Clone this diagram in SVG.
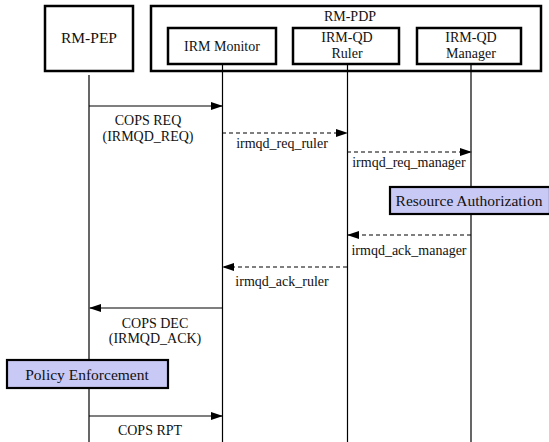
<svg xmlns="http://www.w3.org/2000/svg" width="549" height="442" viewBox="0 0 549 442" font-family="'Liberation Serif', 'DejaVu Serif', serif">
<style>
.box{fill:#fff;stroke:#000;stroke-width:2.5}
.act{fill:#c9c9f5;stroke:#000;stroke-width:2.2}
.life{stroke:#000;stroke-width:1.2;fill:none}
.msg{stroke:#000;stroke-width:1.2;fill:none}
.dash{stroke-dasharray:4,3}
text{font-family:'Liberation Serif','DejaVu Serif',serif;font-size:14px;fill:#111;text-anchor:middle}
.big{font-size:15.5px}
</style>
<defs>
<marker id="ah" markerWidth="12" markerHeight="8" refX="11" refY="4" orient="auto" markerUnits="userSpaceOnUse">
<path d="M0,0 L12,4 L0,8 Z" fill="#000"/>
</marker>
</defs>
<rect width="549" height="442" fill="#fff"/>
<g id="rm-pep">
<rect class="box" x="45" y="6" width="88" height="65"/>
<text class="big" x="89" y="43">RM-PEP</text>
</g>
<g id="rm-pdp">
<rect class="box" x="151" y="6" width="390" height="65"/>
<text x="350" y="21">RM-PDP</text>
</g>
<g id="irm-monitor">
<rect class="box" x="168" y="28" width="108" height="36"/>
<text x="222" y="51">IRM Monitor</text>
</g>
<g id="irm-qd-ruler">
<rect class="box" x="293" y="28" width="106" height="36"/>
<text x="347" y="42">IRM-QD</text>
<text x="347" y="58">Ruler</text>
</g>
<g id="irm-qd-manager">
<rect class="box" x="417" y="28" width="104" height="36"/>
<text x="471" y="42">IRM-QD</text>
<text x="471" y="58">Manager</text>
</g>
<g id="lifelines">
<line class="life" x1="89" y1="75" x2="89" y2="442"/>
<line class="life" x1="222.5" y1="64" x2="222.5" y2="442"/>
<line class="life" x1="347.5" y1="64" x2="347.5" y2="442"/>
<line class="life" x1="471" y1="64" x2="471" y2="442"/>
</g>
<g id="connectors">
<line class="msg" x1="89" y1="106" x2="222" y2="106" marker-end="url(#ah)"/>
<line class="msg dash" x1="222" y1="133" x2="347" y2="133" marker-end="url(#ah)"/>
<line class="msg dash" x1="347" y1="152" x2="471" y2="152" marker-end="url(#ah)"/>
<line class="msg dash" x1="471" y1="235" x2="348" y2="235" marker-end="url(#ah)"/>
<line class="msg dash" x1="347" y1="267" x2="223" y2="267" marker-end="url(#ah)"/>
<line class="msg" x1="222" y1="308" x2="90" y2="308" marker-end="url(#ah)"/>
<line class="msg" x1="89" y1="416" x2="222" y2="416" marker-end="url(#ah)"/>
<text x="148" y="125">COPS REQ</text>
<text x="148" y="141">(IRMQD_REQ)</text>
<text x="282" y="148">irmqd_req_ruler</text>
<text x="409" y="167">irmqd_req_manager</text>
<text x="409" y="255">irmqd_ack_manager</text>
<text x="282" y="286">irmqd_ack_ruler</text>
<text x="155" y="328">COPS DEC</text>
<text x="155" y="343">(IRMQD_ACK)</text>
<text x="150" y="435">COPS RPT</text>
</g>
<g id="resource-authorization">
<rect class="act" x="390" y="187" width="160" height="27"/>
<text class="big" x="469" y="206">Resource Authorization</text>
</g>
<g id="policy-enforcement">
<rect class="act" x="7" y="360" width="161" height="28"/>
<text class="big" x="87" y="380">Policy Enforcement</text>
</g>
</svg>
